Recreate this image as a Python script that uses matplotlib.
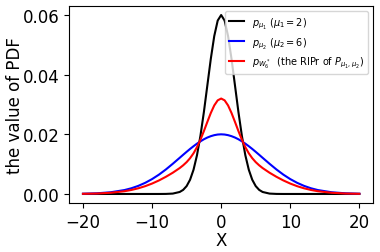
import matplotlib
matplotlib.use("Agg")
import matplotlib.pyplot as plt

# values
x = [-20, -18, -16, -14, -13, -12, -11, -10, -9, -8, -7,
     -6, -5.5, -5, -4.5, -4, -3.5, -3, -2.5, -2, -1.5, -1, -0.5,
     0, 0.5, 1, 1.5, 2, 2.5, 3, 3.5, 4, 4.5, 5, 5.5, 6,
     7, 8, 9, 10, 11, 12, 13, 14, 16, 18, 20]

p_mu1 = [0, 0, 0, 0, 0, 0, 0, 0, 0, 0.00002, 0.00013,
         0.00067, 0.00137, 0.00264, 0.00477, 0.00812, 0.01298, 0.01948, 0.02747, 0.03639, 0.04529, 0.05295, 0.05815,
         0.06, 0.05815, 0.05295, 0.04529, 0.03639, 0.02747, 0.01948, 0.01298, 0.00812, 0.00477, 0.00264, 0.00137, 0.00067,
         0.00013, 0.00002, 0, 0, 0, 0, 0, 0, 0, 0, 0]

p_mu2 = [0.00008, 0.00022, 0.00057, 0.00131, 0.00191, 0.00271, 0.00373, 0.00499, 0.00649, 0.00822, 0.01013,
         0.01213, 0.01314, 0.01413, 0.01510, 0.01601, 0.01687, 0.01765, 0.01834, 0.01892, 0.01938, 0.01972, 0.01993,
         0.02, 0.01993, 0.01972, 0.01938, 0.01892, 0.01834, 0.01765, 0.01687, 0.01601, 0.01510, 0.01413, 0.01314, 0.01213,
         0.01013, 0.00822, 0.00649, 0.00499, 0.00373, 0.00271, 0.00191, 0.00131, 0.00057, 0.00022, 0.00008]

p_ripr = [0.00006, 0.00015, 0.00040, 0.00092, 0.00134, 0.00190, 0.00261, 0.00349, 0.00454, 0.00576, 0.00713,
          0.00869, 0.00961, 0.01068, 0.01200, 0.01364, 0.01570, 0.01820, 0.02108, 0.02416, 0.02715, 0.02969, 0.03140,
          0.032, 0.03140, 0.02969, 0.02715, 0.02416, 0.02108, 0.01820, 0.01570, 0.01364, 0.01200, 0.01068, 0.00961, 0.00869,
          0.00713, 0.00576, 0.00454, 0.00349, 0.00261, 0.00190, 0.00134, 0.00092, 0.00040, 0.00015, 0.00006]

labels = [r"$p_{\mu_1}$ ($\mu_1 = 2$)",
          r"$p_{\mu_2}$ ($\mu_2 = 6$)",
          r"$p_{W_6^*}$  (the RIPr of $P_{\mu_1,\mu_2}$)"]

fig = plt.figure(figsize=(3.8, 2.53), dpi=100)
ax = fig.add_axes([0.182, 0.194, 0.8, 0.778])
ax.plot(x, p_mu1, color="black", lw=1.5, label=labels[0])
ax.plot(x, p_mu2, color="blue", lw=1.5, label=labels[1])
ax.plot(x, p_ripr, color="red", lw=1.5, label=labels[2])

ax.set_xticks([-20, -10, 0, 10, 20])
ax.set_yticks([0, 0.02, 0.04, 0.06])
ax.tick_params(labelsize=12)
ax.set_xlabel("X", fontsize=12, labelpad=0)
ax.set_ylabel("the value of PDF", fontsize=12, labelpad=-1)
ax.legend(loc="upper right", fontsize=7, handlelength=1.6)

fig.savefig("out.png", dpi=100)
